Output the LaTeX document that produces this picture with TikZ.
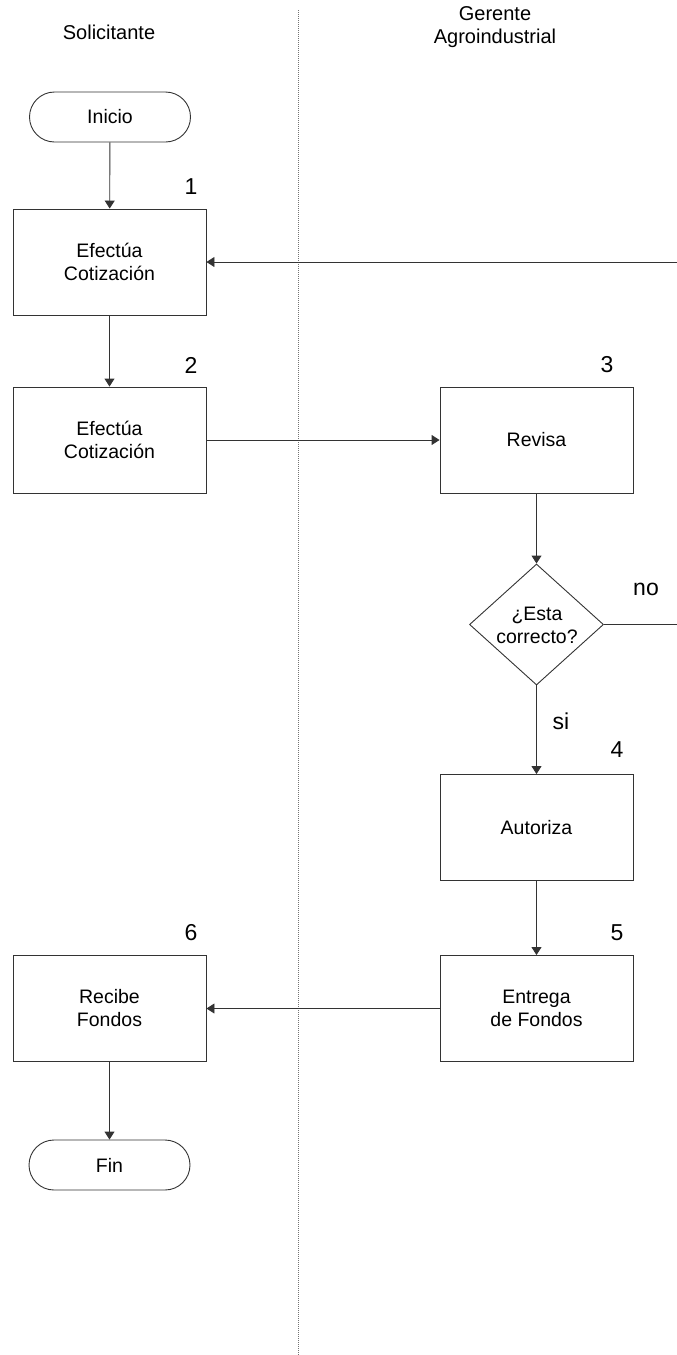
\documentclass[tikz,border=0pt]{standalone}
\usepackage{fontspec}
\setmainfont{Liberation Sans}
\usetikzlibrary{arrows.meta,shapes.geometric}
\begin{document}
\begin{tikzpicture}[x=1pt,y=-1pt,
  line/.style={draw=black!80, line width=0.9pt},
  flow/.style={line, -{Triangle[width=10pt,length=8pt]}},
  stepbox/.style={rectangle, draw=black!80, line width=0.9pt, minimum width=193pt,
    minimum height=106pt, inner sep=0pt, align=center, font=\fontsize{19.5}{23}\selectfont},
  terminal/.style={rectangle, rounded corners=25pt, draw=black!80, line width=0.9pt,
    minimum width=161pt, minimum height=50pt, inner sep=0pt, font=\fontsize{19.5}{23}\selectfont},
  decision/.style={diamond, draw=black!80, line width=0.9pt, minimum width=134pt,
    minimum height=121pt, inner sep=0pt},
  body/.style={align=center, inner sep=0pt, font=\fontsize{19.5}{23}\selectfont},
  header/.style={align=center, inner sep=0pt, font=\fontsize{20}{23}\selectfont},
  num/.style={inner sep=0pt, font=\fontsize{23}{26}\selectfont},
  lane/.style={draw=black!55, line width=1pt, dash pattern=on 1pt off 1pt},
]
\useasboundingbox (0,0) rectangle (677,1355);
\clip (0,0) rectangle (677,1355);

% lane headings and separator
\node[header] (h1) at (109,32) {Solicitante};
\node[header] (h2) at (495,27.5) {Gerente\\Agroindustrial};
\coordinate (laneTop) at (298,10);
\coordinate (laneBot) at (298,1355);
\draw[lane] (laneTop) -- (laneBot);

% Solicitante lane
\node[terminal] (ini) at (110,117) {Inicio};
\node[stepbox] (b1) at (109.5,262) {Efectúa\\Cotización};
\node[stepbox] (b2) at (109.5,440) {Efectúa\\Cotización};
\node[stepbox] (b6) at (109.5,1008.5) {Recibe\\Fondos};
\node[terminal] (fin) at (109.5,1165) {Fin};

% Gerente lane
\node[stepbox] (b3) at (536.5,440) {Revisa};
\node[decision] (dec) at (536.5,624.5) {};
\node[body] (dectxt) at (537,625.5) {¿Esta\\correcto?};
\node[stepbox] (b4) at (536.5,827.5) {Autoriza};
\node[stepbox] (b5) at (536.5,1008.5) {Entrega\\de Fondos};

% step numbers
\node[num] (n1) at (191,187) {1};
\node[num] (n2) at (191,365) {2};
\node[num] (n3) at (607,365) {3};
\node[num] (n4) at (617,750) {4};
\node[num] (n5) at (617,933) {5};
\node[num] (n6) at (191,933) {6};

% branch labels
\node[num] (lno) at (646,589) {no};
\node[num] (lsi) at (561,721) {si};

% connectors
\draw[flow] (ini) -- (b1);
\draw[flow] (b1) -- (b2);
\draw[flow] (b2) -- (b3);
\draw[flow] (b3) -- (dec);
\draw[flow] (dec.east) -- ++(90,0) |- (b1.east);
\draw[flow] (dec) -- (b4);
\draw[flow] (b4) -- (b5);
\draw[flow] (b5) -- (b6);
\draw[flow] (b6) -- (fin);
\end{tikzpicture}
\end{document}
